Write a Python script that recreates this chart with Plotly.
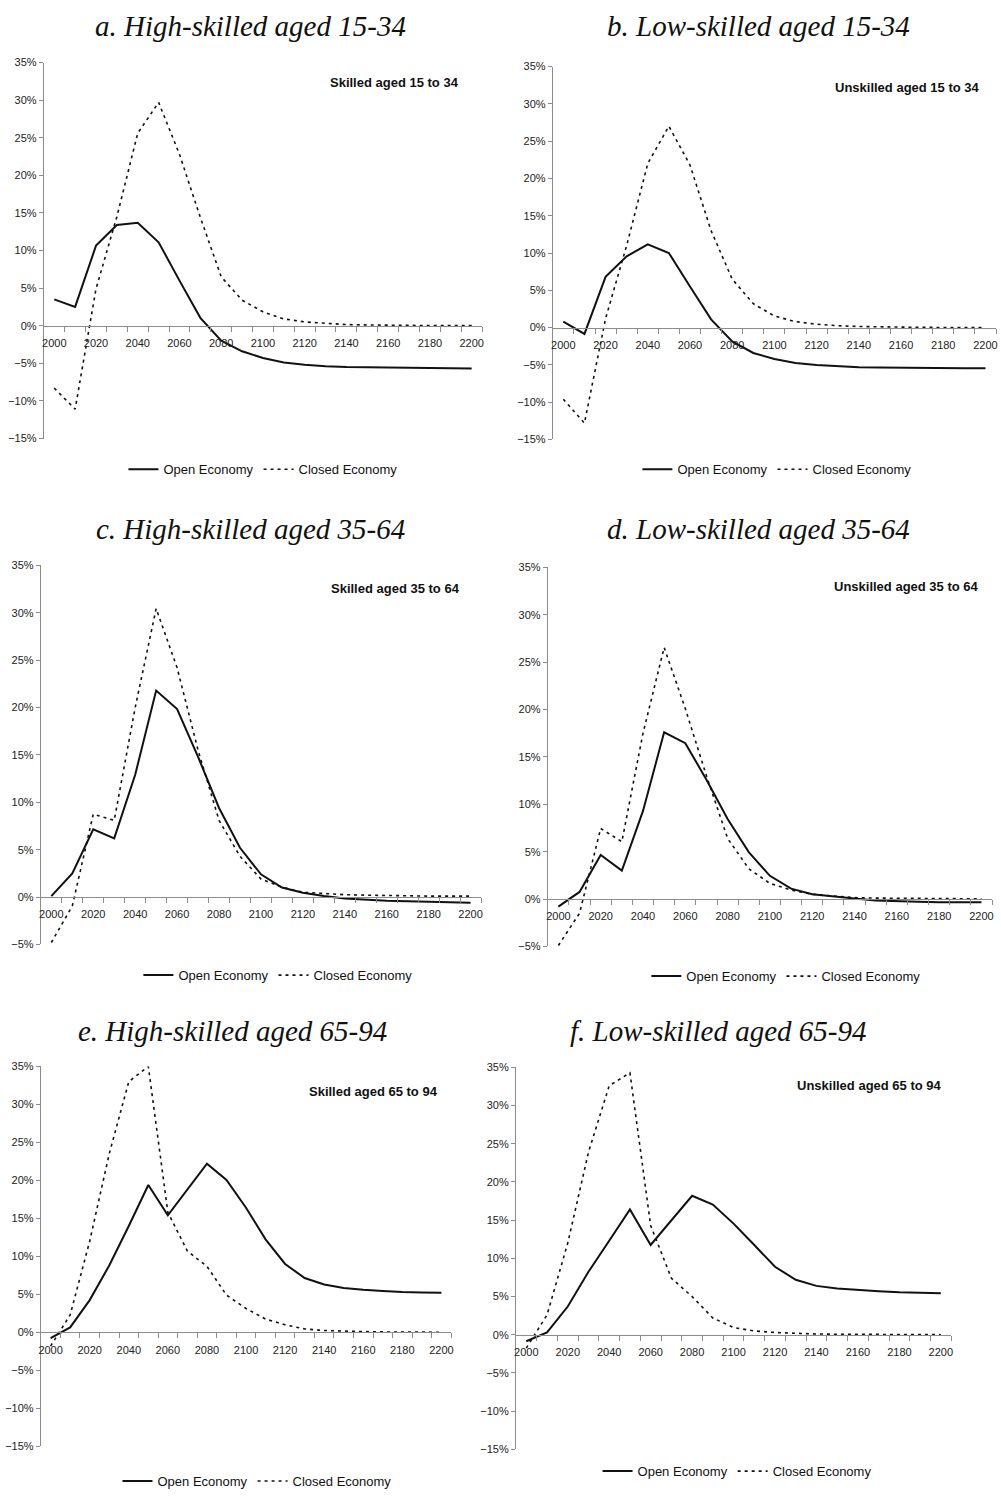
import plotly.graph_objects as go

# ---------------- data ----------------
years = list(range(2000, 2201, 10))
x_label_years = list(range(2000, 2201, 20))
x_labels = [str(y) for y in x_label_years]

open_a = [3.5, 2.5, 10.65, 13.4, 13.7, 11.1, 6.0, 1.05, -2.0, -3.4, -4.3, -4.9, -5.2, -5.4, -5.5, -5.55, -5.6, -5.62, -5.65, -5.67, -5.7]
closed_a = [-8.3, -11.1, 4.9, 14.5, 25.6, 29.7, 22.8, 14.4, 6.5, 3.4, 1.85, 0.9, 0.5, 0.3, 0.15, 0.1, 0.05, 0.03, 0.02, 0.01, 0.01]

open_b = [0.8, -0.85, 6.8, 9.55, 11.15, 10.0, 5.5, 1.1, -1.85, -3.4, -4.2, -4.75, -5.0, -5.2, -5.3, -5.35, -5.4, -5.4, -5.42, -5.45, -5.45]
closed_b = [-9.6, -12.8, 1.2, 11.0, 22.0, 27.0, 21.8, 13.0, 6.5, 3.2, 1.55, 0.8, 0.45, 0.25, 0.15, 0.08, 0.05, 0.03, 0.02, 0.01, 0.01]

open_c = [0.1, 2.5, 7.15, 6.2, 12.9, 21.8, 19.85, 14.8, 9.4, 5.2, 2.4, 1.0, 0.45, 0.1, -0.15, -0.3, -0.4, -0.45, -0.5, -0.55, -0.6]
closed_c = [-4.8, -0.95, 8.75, 8.1, 20.0, 30.45, 24.2, 15.5, 8.1, 4.3, 1.9, 1.05, 0.5, 0.35, 0.25, 0.2, 0.15, 0.12, 0.1, 0.1, 0.1]

open_d = [-0.8, 0.75, 4.65, 3.0, 9.3, 17.6, 16.45, 12.6, 8.45, 4.95, 2.45, 1.1, 0.5, 0.25, 0.05, -0.15, -0.25, -0.3, -0.35, -0.35, -0.35]
closed_d = [-4.9, -1.5, 7.45, 6.05, 17.5, 26.55, 20.1, 13.0, 6.4, 3.2, 1.65, 0.95, 0.5, 0.3, 0.15, 0.1, 0.08, 0.05, 0.04, 0.03, 0.02]

open_e = [-0.75, 0.65, 4.25, 8.8, 14.0, 19.4, 15.4, 18.75, 22.2, 20.05, 16.4, 12.25, 9.0, 7.15, 6.3, 5.85, 5.6, 5.45, 5.3, 5.25, 5.2]
closed_e = [-1.8, 2.3, 12.0, 23.5, 33.0, 35.0, 15.8, 10.7, 8.7, 4.9, 3.15, 1.75, 1.0, 0.45, 0.25, 0.15, 0.1, 0.06, 0.04, 0.03, 0.02]

open_f = [-0.85, 0.3, 3.7, 8.25, 12.3, 16.4, 11.75, 15.0, 18.2, 17.05, 14.55, 11.75, 8.9, 7.2, 6.4, 6.05, 5.85, 5.7, 5.55, 5.5, 5.45]
closed_f = [-1.75, 2.6, 12.0, 23.9, 32.6, 34.3, 14.3, 7.4, 5.0, 2.2, 0.95, 0.5, 0.3, 0.15, 0.1, 0.07, 0.05, 0.03, 0.02, 0.02, 0.01]

titles = ["a. High-skilled aged 15-34", "b. Low-skilled aged 15-34",
          "c. High-skilled aged 35-64", "d. Low-skilled aged 35-64",
          "e. High-skilled aged 65-94", "f. Low-skilled aged 65-94"]
notes = ["Skilled aged 15 to 34", "Unskilled aged 15 to 34",
         "Skilled aged 35 to 64", "Unskilled aged 35 to 64",
         "Skilled aged 65 to 94", "Unskilled aged 65 to 94"]
series_names = ["Open Economy", "Closed Economy"]

open_series = [open_a, open_b, open_c, open_d, open_e, open_f]
closed_series = [closed_a, closed_b, closed_c, closed_d, closed_e, closed_f]
y_mins = [-15, -15, -5, -5, -15, -15]
y_max = 35

# ---------------- layout geometry (pixels) ----------------
W, H = 1001, 1497
geom = [
    dict(x0=42, x1=482, ytop=57, ybot=436, title=(249, 20), note=(394, 77), leg=(262, 467)),
    dict(x0=553, x1=998, ytop=61, ybot=437, title=(760, 20), note=(909, 82), leg=(778, 467)),
    dict(x0=39, x1=481, ytop=564, ybot=946, title=(249, 527), note=(395, 587), leg=(277, 977)),
    dict(x0=548, x1=994, ytop=566, ybot=948, title=(760, 527), note=(908, 585), leg=(787, 978)),
    dict(x0=39, x1=451, ytop=1069, ybot=1452, title=(231, 1033), note=(373, 1094), leg=(256, 1487)),
    dict(x0=516, x1=953, ytop=1070, ybot=1455, title=(719, 1033), note=(871, 1088), leg=(738, 1477)),
]


def fx(px):
    return px / W


def fy(py):
    return 1 - py / H


NARROW = "Liberation Sans Narrow, Arial Narrow, Liberation Sans, Arial, sans-serif"
SERIF = "Liberation Serif, Times New Roman, serif"
AXIS_COLOR = "#8c8c8c"

fig = go.Figure()
layout = dict(
    width=W, height=H,
    margin=dict(l=0, r=0, t=0, b=0),
    paper_bgcolor="white", plot_bgcolor="white",
    showlegend=True,
    annotations=[],
)

for i, g in enumerate(geom):
    n = i + 1
    xa = "xaxis" if n == 1 else f"xaxis{n}"
    ya = "yaxis" if n == 1 else f"yaxis{n}"
    xr = "x" if n == 1 else f"x{n}"
    yr = "y" if n == 1 else f"y{n}"
    lg = "legend" if n == 1 else f"legend{n}"

    ymin = y_mins[i]
    yd0, yd1 = fy(g["ybot"]), fy(g["ytop"])
    zero_pos = yd0 + (0 - ymin) / (y_max - ymin) * (yd1 - yd0)

    fig.add_trace(go.Scatter(
        x=years, y=open_series[i], mode="lines", name=series_names[0],
        line=dict(color="#111111", width=2), xaxis=xr, yaxis=yr, legend=lg,
        cliponaxis=False,
    ))
    fig.add_trace(go.Scatter(
        x=years, y=closed_series[i], mode="lines", name=series_names[1],
        line=dict(color="#111111", width=1.6, dash="3px,4px"), xaxis=xr, yaxis=yr, legend=lg,
        cliponaxis=False,
    ))

    layout[xa] = dict(
        domain=[fx(g["x0"]), fx(g["x1"])],
        range=[1995, 2205],
        anchor="free", position=zero_pos,
        showline=True, linecolor=AXIS_COLOR, linewidth=1,
        showgrid=False, zeroline=False,
        tickmode="array", tickvals=x_label_years, ticktext=x_labels,
        ticks="", ticklabelstandoff=7,
        tickfont=dict(family=NARROW, size=11, color="#222222"),
        minor=dict(tickmode="array", tickvals=[1995 + 10 * k for k in range(22)],
                   ticks="outside", ticklen=5, tickcolor=AXIS_COLOR, showgrid=False),
        fixedrange=True,
    )
    layout[ya] = dict(
        domain=[yd0, yd1],
        range=[ymin, y_max],
        anchor=xr,
        showline=True, linecolor=AXIS_COLOR, linewidth=1,
        showgrid=False, zeroline=False,
        tickmode="linear", tick0=0, dtick=5, ticksuffix="%",
        ticks="outside", ticklen=4, tickcolor=AXIS_COLOR,
        tickfont=dict(family=NARROW, size=11, color="#222222"),
        fixedrange=True,
    )
    layout[lg] = dict(
        x=fx(g["leg"][0]), y=fy(g["leg"][1]), xanchor="center", yanchor="middle",
        orientation="h", bgcolor="rgba(0,0,0,0)",
        font=dict(family=NARROW, size=13, color="#111111"),
        itemwidth=30, tracegroupgap=0,
    )
    layout["annotations"].append(dict(
        text=titles[i], x=fx(g["title"][0]), y=fy(g["title"][1]),
        xref="paper", yref="paper", xanchor="center", yanchor="middle",
        showarrow=False,
        font=dict(family=SERIF, size=29, color="#111111", style="italic"),
    ))
    layout["annotations"].append(dict(
        text=f"<b>{notes[i]}</b>", x=fx(g["note"][0]), y=fy(g["note"][1]),
        xref="paper", yref="paper", xanchor="center", yanchor="middle",
        showarrow=False,
        font=dict(family=NARROW, size=13, color="#111111"),
    ))

fig.update_layout(**layout)
fig.write_html("out.html")
